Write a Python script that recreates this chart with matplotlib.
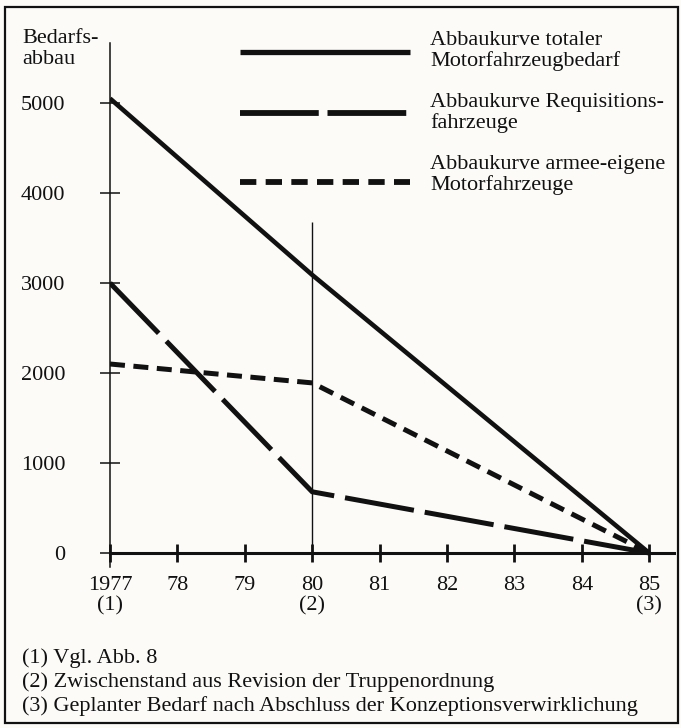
import numpy as np
import matplotlib.pyplot as plt
from matplotlib.lines import Line2D
from matplotlib.patches import Rectangle

plt.rcParams['font.family'] = ['Liberation Serif', 'DejaVu Serif']

# data
years = [1977, 1980, 1985]
total = [5050, 3090, 0]
requisition = [3000, 680, 0]
armee = [2100, 1890, 0]

xticks = [1977, 1978, 1979, 1980, 1981, 1982, 1983, 1984, 1985]
xlabels = ['1977\n(1)', '78', '79', '80\n(2)', '81', '82', '83', '84', '85\n(3)']
yticks = [0, 1000, 2000, 3000, 4000, 5000]

legend_labels = ['Abbaukurve totaler\nMotorfahrzeugbedarf',
                 'Abbaukurve Requisitions-\nfahrzeuge',
                 'Abbaukurve armee-eigene\nMotorfahrzeuge']
footnotes = ['(1) Vgl. Abb. 8',
             '(2) Zwischenstand aus Revision der Truppenordnung',
             '(3) Geplanter Bedarf nach Abschluss der Konzeptionsverwirklichung']

W, H = 681, 728
bg = '#fcfbf8'
ink = '#111111'
fs = 16

def fx(px):
    return px / W

def fy(px):
    return 1 - px / H

fig = plt.figure(figsize=(W / 100, H / 100), dpi=100, facecolor=bg)

# axes: left edge = 1977, x axis at y=0 (pixel 553), 90 px per 1000
ax_l, ax_r, ax_t, ax_b = 110, 674, 43, 567
ax = fig.add_axes([fx(ax_l), fy(ax_b), fx(ax_r - ax_l), (ax_b - ax_t) / H])
ax.set_facecolor('none')
ax.set_xlim(1977, 1977 + (ax_r - ax_l) / 67.4)
ax.set_ylim(-(ax_b - 553) / 90 * 1000, (553 - ax_t) / 90 * 1000)

for s in ['top', 'right']:
    ax.spines[s].set_visible(False)
ax.spines['bottom'].set_position(('data', 0))
ax.spines['bottom'].set_linewidth(2.2)
ax.spines['left'].set_linewidth(1.1)
ax.spines['bottom'].set_color(ink)
ax.spines['left'].set_color(ink)

ax.set_xticks(xticks)
ax.set_xticklabels(xlabels, fontsize=fs, linespacing=1.1)
ax.tick_params(axis='x', direction='inout', length=13, width=2, pad=10, colors=ink)
ax.set_yticks(yticks)
ax.set_yticklabels([str(v) for v in yticks], fontsize=fs)
ax.tick_params(axis='y', direction='inout', length=14, width=1.1, pad=25, colors=ink)

# vertical marker at 1980
ax.vlines(1980, 0, 3680, color=ink, lw=1.0)

ax.plot(years, total, color=ink, lw=3.3, solid_capstyle='butt')
ax.plot(years, requisition, color=ink, lw=3.6, dashes=(14, 2.2), dash_capstyle='butt')
ax.plot(years, armee, color=ink, lw=3.6, dashes=(3, 1.7), dash_capstyle='butt')

# legend drawn by hand
styles = [dict(lw=3.8), dict(lw=4.2, dashes=(13.5, 1.5)), dict(lw=4.2, dashes=(2.8, 1.6))]
line_y = [52, 113, 182]
text_y = [51, 113, 175]
for ly, ty, lab, st in zip(line_y, text_y, legend_labels, styles):
    fig.add_artist(Line2D([fx(240), fx(410)], [fy(ly), fy(ly)], color=ink,
                          solid_capstyle='butt', dash_capstyle='butt', **st))
    fig.text(fx(430), fy(ty), lab, fontsize=fs, va='center', ha='left',
             linespacing=1.1, color=ink)

fig.text(fx(22), fy(49), 'Bedarfs-\nabbau', fontsize=fs, va='center', ha='left',
         linespacing=1.1, color=ink)

for i, t in enumerate(footnotes):
    fig.text(fx(22), fy(658 + 24 * i), t, fontsize=fs, va='center', ha='left', color=ink)

fig.add_artist(Rectangle((fx(5), fy(723)), fx(673), (723 - 7) / H, fill=False,
                         edgecolor=ink, lw=1.6, transform=fig.transFigure))

fig.savefig('out.png', dpi=100, facecolor=bg)
